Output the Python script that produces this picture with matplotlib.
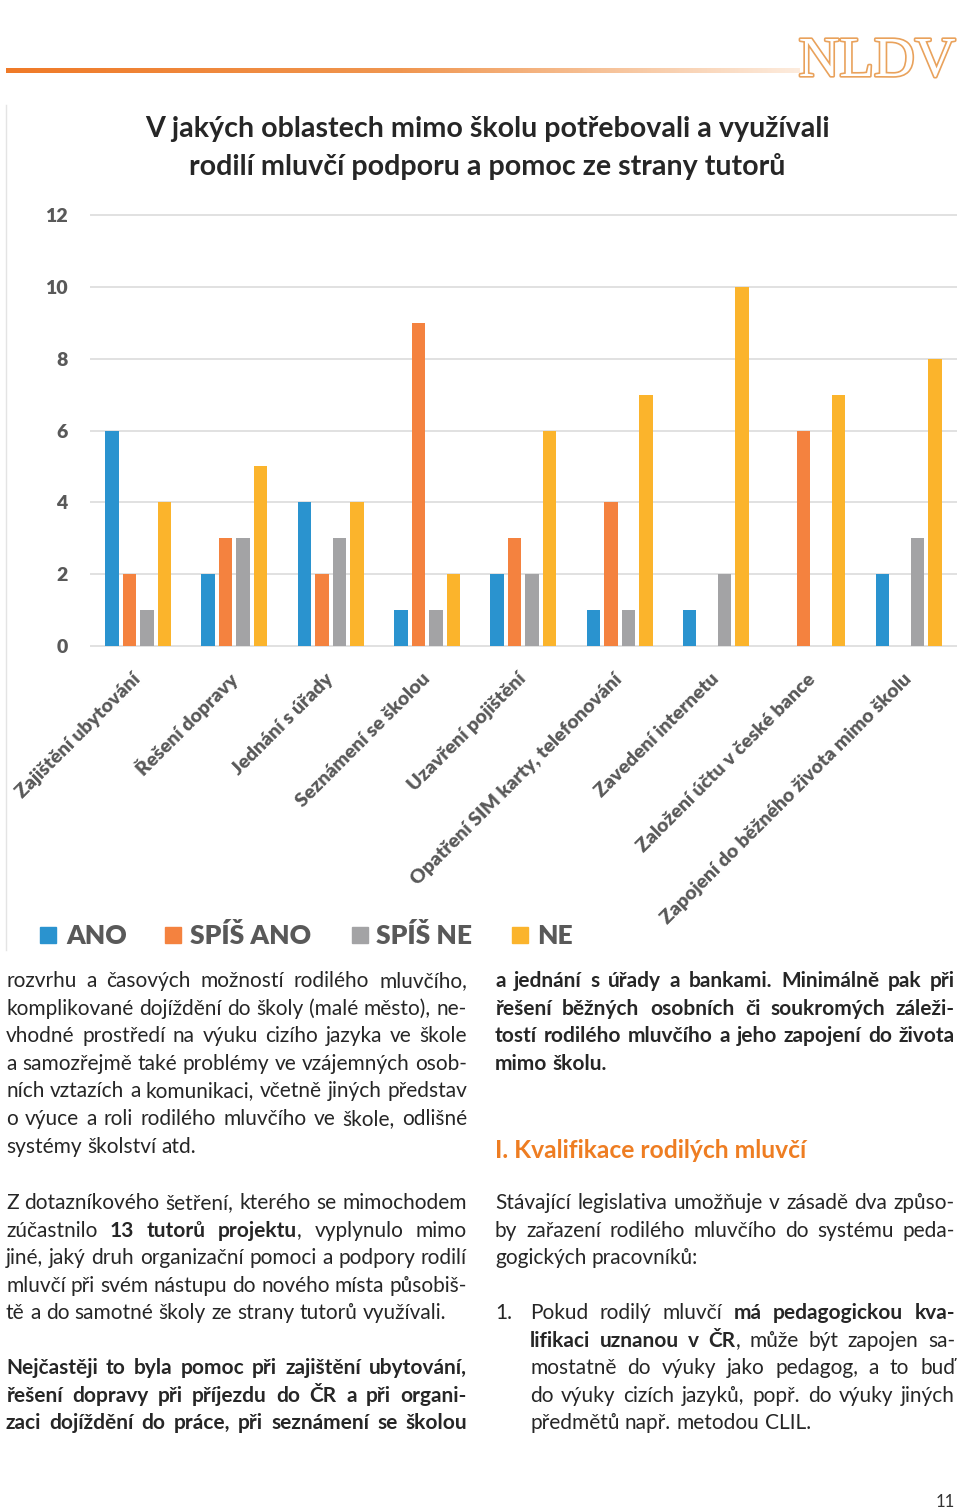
import numpy as np
import matplotlib
matplotlib.use('Agg')
import matplotlib.pyplot as plt
from matplotlib.patches import Rectangle
from matplotlib.lines import Line2D
import matplotlib.patheffects as pe

# ---------------- data ----------------
categories = [
    'Zajištění ubytování', 'Řešení dopravy', 'Jednání s úřady',
    'Seznámení se školou', 'Uzavření pojištění',
    'Opatření SIM karty, telefonování', 'Zavedení internetu',
    'Založení účtu v české bance', 'Zapojení do běžného života mimo školu',
]
series_names = ['ANO', 'SPÍŠ ANO', 'SPÍŠ NE', 'NE']
ano = [6, 2, 4, 1, 2, 1, 1, 0, 2]
spis_ano = [2, 3, 2, 9, 3, 4, 0, 6, 0]
spis_ne = [1, 3, 3, 1, 2, 1, 2, 0, 3]
ne = [4, 5, 4, 2, 6, 7, 10, 7, 8]
y_ticks = [0, 2, 4, 6, 8, 10, 12]
series_values = [ano, spis_ano, spis_ne, ne]
colors = ['#2a93cf', '#f4823f', '#a3a3a5', '#fbb42c']

title_lines = ['V jakých oblastech mimo školu potřebovali a využívali',
               'rodilí mluvčí podporu a pomoc ze strany tutorů']

left_par1 = [
    'rozvrhu a časových možností rodilého mluvčího,',
    'komplikované dojíždění do školy (malé město), ne-',
    'vhodné prostředí na výuku cizího jazyka ve škole',
    'a samozřejmě také problémy ve vzájemných osob-',
    'ních vztazích a komunikaci, včetně jiných představ',
    'o výuce a roli rodilého mluvčího ve škole, odlišné',
    'systémy školství atd.',
]
left_par2 = [
    'Z dotazníkového šetření, kterého se mimochodem',
    'zúčastnilo **13 tutorů projektu**, vyplynulo mimo',
    'jiné, jaký druh organizační pomoci a podpory rodilí',
    'mluvčí při svém nástupu do nového místa působiš-',
    'tě a do samotné školy ze strany tutorů využívali.',
]
left_par3 = [
    'Nejčastěji to byla pomoc při zajištění ubytování,',
    'řešení dopravy při příjezdu do ČR a při organi-',
    'zaci dojíždění do práce, při seznámení se školou',
]
right_par1 = [
    'a jednání s úřady a bankami. Minimálně pak při',
    'řešení běžných osobních či soukromých záleži-',
    'tostí rodilého mluvčího a jeho zapojení do života',
    'mimo školu.',
]
heading = 'I. Kvalifikace rodilých mluvčí'
right_par2 = [
    'Stávající legislativa umožňuje v zásadě dva způso-',
    'by zařazení rodilého mluvčího do systému peda-',
    'gogických pracovníků:',
]
list_items = [
    'Pokud rodilý mluvčí **má pedagogickou kva-**',
    '**lifikaci uznanou v ČR**, může být zapojen sa-',
    'mostatně do výuky jako pedagog, a to buď',
    'do výuky cizích jazyků, popř. do výuky jiných',
    'předmětů např. metodou CLIL.',
]

# ---------------- figure ----------------
W, H = 960, 1511
FONT = ['Lato', 'DejaVu Sans']
plt.rcParams['font.family'] = FONT
fig = plt.figure(figsize=(W / 100, H / 100), dpi=100)
fig.patch.set_facecolor('white')
renderer = fig.canvas.get_renderer()


def fx(px):
    return px / W


def fy(py):
    return 1 - py / H


def measure(s, size, bold=False, family=None):
    kw = {} if family is None else {'family': family}
    t = fig.text(0, 0, s, fontsize=size, fontweight='bold' if bold else 'normal', **kw)
    w = t.get_window_extent(renderer).width
    t.remove()
    return w


# header gradient line
ax_h = fig.add_axes([fx(6), fy(73), fx(800) - fx(6), 5 / H])
c0 = np.array([239, 122, 40]) / 255
c1 = np.array([240, 150, 80]) / 255
c2 = np.array([253, 236, 222]) / 255
t = np.linspace(0, 1, 400)[:, None]
grad = np.where(t < 0.5, c0 + (c1 - c0) * (t / 0.5), c1 + (c2 - c1) * ((t - 0.5) / 0.5))
ax_h.imshow(grad[None, :, :], aspect='auto', extent=[0, 1, 0, 1])
ax_h.axis('off')

# logo
logo_col = '#e9a25c'
lw_ = measure('NLDV', 40, family='Liberation Serif')
fig.text(fx(877), fy(76), 'NLDV', fontsize=40 * 157 / lw_, family='Liberation Serif',
         color='white', ha='center', va='baseline',
         path_effects=[pe.withStroke(linewidth=2.4, foreground=logo_col)])

# chart frame line
fig.add_artist(Line2D([fx(6), fx(6)], [fy(105), fy(950)], color='#e4e4e4', lw=1))

# title
tw = measure(title_lines[0], 20, True)
tsize = 20 * 684 / tw
fig.text(fx(487), fy(137), title_lines[0], ha='center', va='baseline', fontsize=tsize,
         fontweight='bold', color='#262626')
fig.text(fx(487), fy(175), title_lines[1], ha='center', va='baseline', fontsize=tsize,
         fontweight='bold', color='#262626')

# ---------------- chart ----------------
GRAYTXT = '#595959'
ax = fig.add_axes([fx(90), fy(645.7), (956.7 - 90) / W, (645.7 - 215.3) / H])
x = np.arange(len(categories))
step = 0.182
bw = 0.14
for i, (vals, col, name) in enumerate(zip(series_values, colors, series_names)):
    ax.bar(x + (i - 1.5) * step, vals, width=bw, color=col, label=name, zorder=3)
ax.set_xlim(-0.5, len(categories) - 0.5)
ax.set_ylim(0, 12)
ax.hlines(y_ticks, -0.5, len(categories) - 0.5, color='#d9d9d9', lw=1.1, zorder=0, clip_on=False)
for sp in ax.spines.values():
    sp.set_visible(False)
ax.set_yticks(y_ticks)
ax.set_yticklabels([str(v) for v in y_ticks], fontsize=14, fontweight='heavy', color=GRAYTXT)
ax.tick_params(axis='y', length=0, pad=16)
ax.set_xticks(x)
ax.set_xticklabels(categories, rotation=45, ha='right', va='center', rotation_mode='anchor',
                   fontsize=14, fontweight='heavy', color=GRAYTXT)
ax.tick_params(axis='x', length=0, pad=22)
ax.set_facecolor('none')

# legend
leg_sq = [40, 165, 352, 512]
leg_tx = [66, 190, 376, 537]
for name, col, sx, tx in zip(series_names, colors, leg_sq, leg_tx):
    fig.add_artist(Rectangle((fx(sx), fy(943)), 16 / W, 16 / H, color=col, transform=fig.transFigure))
    fig.text(fx(tx), fy(944), name, fontsize=19, fontweight='heavy', color=GRAYTXT,
             ha='left', va='baseline')

# ---------------- body text ----------------
TXT = '#262626'


def parse(line, base_bold):
    words = []
    bold = base_bold
    for raw in line.split(' '):
        pieces = []
        parts = raw.split('**')
        for k, p in enumerate(parts):
            if k > 0:
                bold = not bold
            if p:
                pieces.append((p, bold))
        words.append(pieces)
    return words


def line_width(line, size, base_bold):
    words = parse(line, base_bold)
    return sum(measure(p, size, b) for w in words for p, b in w), len(words)


blocks = [
    (left_par1, 6, 467, 987, False, False),
    (left_par2, 6, 467, 1209, False, False),
    (left_par3, 6, 467, 1374, True, True),
    (right_par1, 495, 955, 987, True, False),
    (right_par2, 495, 955, 1209, False, False),
    (list_items, 530, 955, 1319, False, False),
]

base = 15.0
sp_base = measure('a a', base) - measure('aa', base)
ratio = 1.0
for lines, x0, x1, y0, bb, jl in blocks:
    for ln in lines:
        wsum, n = line_width(ln, base, bb)
        need = wsum + (n - 1) * 0.7 * sp_base
        ratio = min(ratio, (x1 - x0) / need)
size = base * ratio
space = measure('a a', size) - measure('aa', size)
LH = 27.6


def draw_block(lines, x0, x1, y0, base_bold, justify_last):
    for i, ln in enumerate(lines):
        words = parse(ln, base_bold)
        widths = [[measure(p, size, b) for p, b in w] for w in words]
        wsum = sum(sum(ws) for ws in widths)
        last = (i == len(lines) - 1) and not justify_last
        gap = space if (last or len(words) < 2) else (x1 - x0 - wsum) / (len(words) - 1)
        xx = x0
        y = y0 + i * LH
        for w, ws in zip(words, widths):
            for (p, b), pw in zip(w, ws):
                fig.text(fx(xx), fy(y), p, fontsize=size, fontweight='bold' if b else 'normal',
                         color=TXT, ha='left', va='baseline')
                xx += pw
            xx += gap


for lines, x0, x1, y0, bb, jl in blocks:
    draw_block(lines, x0, x1, y0, bb, jl)

fig.text(fx(495), fy(1319), '1.', fontsize=size, color=TXT, ha='left', va='baseline')

hw = measure(heading, 20, True)
fig.text(fx(495), fy(1158), heading, fontsize=20 * 311 / hw, fontweight='bold',
         color='#ee7d22', ha='left', va='baseline')

fig.text(fx(955), fy(1507), '11', fontsize=12, color='#333333', ha='right', va='baseline')

fig.savefig('out.png', dpi=100, facecolor='white')
